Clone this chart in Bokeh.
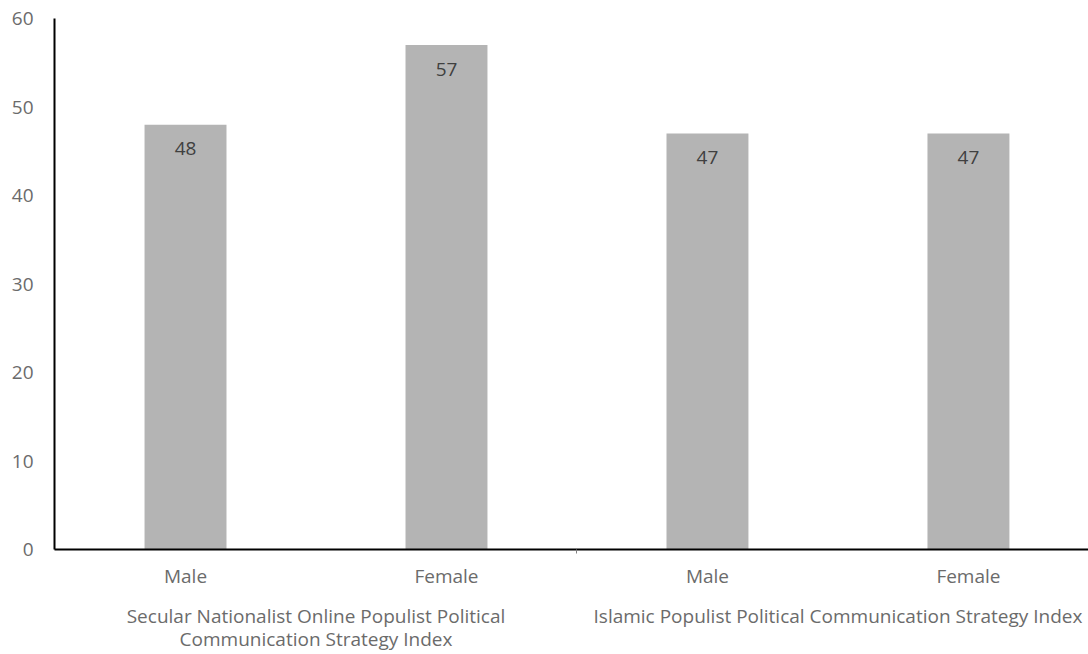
from bokeh.plotting import figure
from bokeh.models import LinearAxis, FixedTicker, Range1d, ColumnDataSource
from bokeh.core.properties import value
from bokeh.embed import file_html
from bokeh.resources import INLINE

# Data
genders = ["Male", "Female", "Male", "Female"]
scores = [48, 57, 47, 47]
groups = [
    "Secular Nationalist Online Populist Political\nCommunication Strategy Index",
    "Islamic Populist Political Communication Strategy Index",
]
y_ticks = [0, 10, 20, 30, 40, 50, 60]

FONT = "Open Sans"
GREY_TXT = "#6b6b6b"
SIZE = "19px"

xs = list(range(len(scores)))
src = ColumnDataSource(dict(x=xs, top=scores, label=[str(v) for v in scores]))

p = figure(
    width=1088, height=654,
    output_backend="svg", toolbar_location=None,
    x_range=Range1d(-0.502, 3.46), y_range=Range1d(0, 60),
    min_border_left=54, min_border_right=0, min_border_top=18, min_border_bottom=104,
    x_axis_location=None,
)
p.outline_line_color = None
p.xgrid.visible = False
p.ygrid.visible = False

p.vbar(x="x", top="top", width=0.314, bottom=0, source=src,
       fill_color="#b4b4b4", line_color=None)

p.text(x="x", y="top", text="label", source=src,
       text_align="center", text_baseline="middle", y_offset=24,
       text_font=value(FONT), text_font_size=SIZE, text_color="#404040")

# y axis
ya = p.yaxis[0]
ya.ticker = FixedTicker(ticks=y_ticks)
ya.axis_line_color = "black"
ya.axis_line_width = 2
ya.major_tick_line_color = None
ya.minor_tick_line_color = None
ya.major_label_text_font = FONT
ya.major_label_text_font_size = SIZE
ya.major_label_text_color = GREY_TXT
ya.major_label_standoff = 15

# gender labels
xa = LinearAxis(ticker=FixedTicker(ticks=xs, minor_ticks=[1.5]))
xa.major_label_overrides = {i: g for i, g in enumerate(genders)}
xa.axis_line_color = "black"
xa.axis_line_width = 2
xa.major_tick_line_color = None
xa.minor_tick_out = 4
xa.minor_tick_in = 0
xa.minor_tick_line_color = "#808080"
xa.major_label_text_font = FONT
xa.major_label_text_font_size = SIZE
xa.major_label_text_color = GREY_TXT
xa.major_label_standoff = 7
p.add_layout(xa, "below")

# group labels
ga = LinearAxis(ticker=FixedTicker(ticks=[0.5, 2.5], minor_ticks=[]))
ga.major_label_overrides = {0.5: groups[0], 2.5: groups[1]}
ga.axis_line_color = None
ga.major_tick_line_color = None
ga.minor_tick_line_color = None
ga.major_label_text_font = FONT
ga.major_label_text_font_size = SIZE
ga.major_label_text_color = GREY_TXT
ga.major_label_text_line_height = 0.9
ga.major_label_standoff = 5
p.add_layout(ga, "below")

open("out.html", "w").write(file_html(p, INLINE))
